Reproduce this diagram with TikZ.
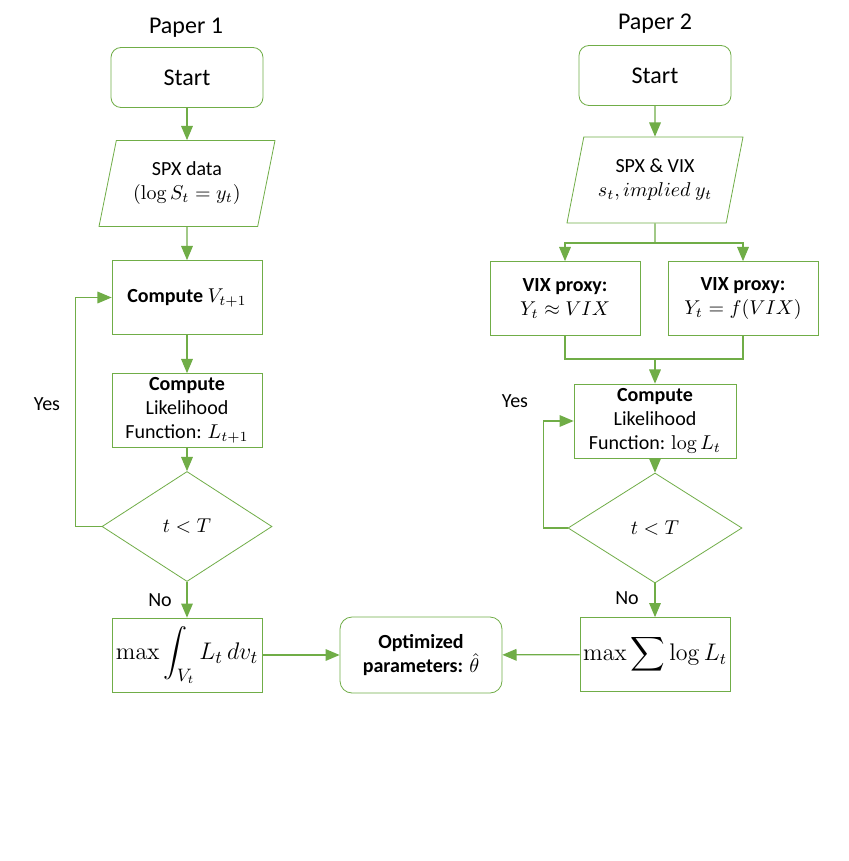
\documentclass[tikz,border=0pt]{standalone}
\usepackage[no-math]{fontspec}
\setmainfont{Carlito}
\usepackage{amsmath}
\usetikzlibrary{positioning, arrows, shapes}

\definecolor{flowgreen}{HTML}{70AD47}

\begin{document}
\begin{tikzpicture}[x=.5pt, y=-.5pt,
    every node/.style={font=\fontsize{10}{12}\selectfont, align=center, inner sep=0pt},
    startbox/.style={draw=flowgreen, rounded corners=5pt, minimum width=76pt, minimum height=30pt, font=\fontsize{12}{14}\selectfont},
    optbox/.style={draw=flowgreen, rounded corners=6pt, minimum width=81pt, minimum height=38pt},
    databox/.style={draw=flowgreen, trapezium, trapezium left angle=68, trapezium right angle=112, trapezium stretches body, minimum width=88pt, minimum height=43pt},
    procbox/.style={draw=flowgreen, rectangle, minimum width=75pt, minimum height=37pt},
    decbox/.style={draw=flowgreen, diamond, aspect=1.6, minimum width=85pt, minimum height=55pt},
    link/.style={draw=flowgreen, line width=.6pt},
    arr/.style={link, -triangle 45}
]
\fill[white] (0,0) rectangle (849,861);
\useasboundingbox (0,0) rectangle (849,861);

% Paper 1
\node[font=\fontsize{12}{14}\selectfont] (paper1) at (186,28) {Paper 1};
\node[startbox] (start1) at (187,77.5) {Start};
\node[databox] (data1) at (187,183.5) {SPX data\\ $(\log S_t = y_t)$};
\node[procbox] (comp1) at (187,297.5) {\textbf{Compute} $V_{t+1}$};
\node[procbox] (lik1) at (187,410.5) {\textbf{Compute}\\ Likelihood\\ Function: $L_{t+1}$};
\node[decbox] (dec1) at (187,526.5) {$t<T$};
\node[procbox, font=\fontsize{13}{15}\selectfont] (max1) at (187,655) {$\displaystyle\max\int_{V_t} L_t\,dv_t$};

% Paper 2
\node[font=\fontsize{12}{14}\selectfont] (paper2) at (655,24) {Paper 2};
\node[startbox] (start2) at (655,75.5) {Start};
\node[databox] (data2) at (655,180) {SPX \& VIX\\ $s_t, implied\ y_t$};
\node[procbox] (vix1) at (565,298.5) {\textbf{VIX proxy:}\\ $Y_t \approx VIX$};
\node[procbox] (vix2) at (743,298.5) {\textbf{VIX proxy:}\\ $Y_t = f(VIX)$};
\node[procbox, minimum width=81pt] (lik2) at (655,421) {\textbf{Compute}\\ Likelihood\\ Function: $\log L_t$};
\node[decbox, minimum width=87pt] (dec2) at (655,528) {$t<T$};
\node[procbox, font=\fontsize{12}{14}\selectfont] (max2) at (655,654.5) {$\displaystyle\max\sum\log L_t$};

\node[optbox] (opt) at (421,655) {\textbf{Optimized}\\ \textbf{parameters:} $\hat\theta$};

\coordinate (split) at (655,243);
\coordinate (merge) at (655,359);

\node (yes1) at (47,404) {Yes};
\node (no1) at (160,600) {No};
\node (yes2) at (515,401) {Yes};
\node (no2) at (627,598) {No};

% connectors
\draw[arr] (start1) -- (data1);
\draw[arr] (data1) -- (comp1);
\draw[arr] (comp1) -- (lik1);
\draw[arr] (lik1) -- (dec1);
\draw[arr] (dec1) -- (max1);
\draw[arr] (dec1.west) -- ++(-26,0) |- (comp1.west);
\draw[arr] (max1) -- (opt);

\draw[arr] (start2) -- (data2);
\draw[link] (data2) -- (split);
\draw[arr] (split) -| (vix1);
\draw[arr] (split) -| (vix2);
\draw[link] (vix1) |- (merge) -| (vix2);
\draw[arr] (merge) -- (lik2);
\draw[arr] (lik2) -- (dec2);
\draw[arr] (dec2) -- (max2);
\draw[arr] (dec2.west) -- ++(-24,0) |- (lik2.west);
\draw[arr] (max2) -- (opt);
\end{tikzpicture}
\end{document}
